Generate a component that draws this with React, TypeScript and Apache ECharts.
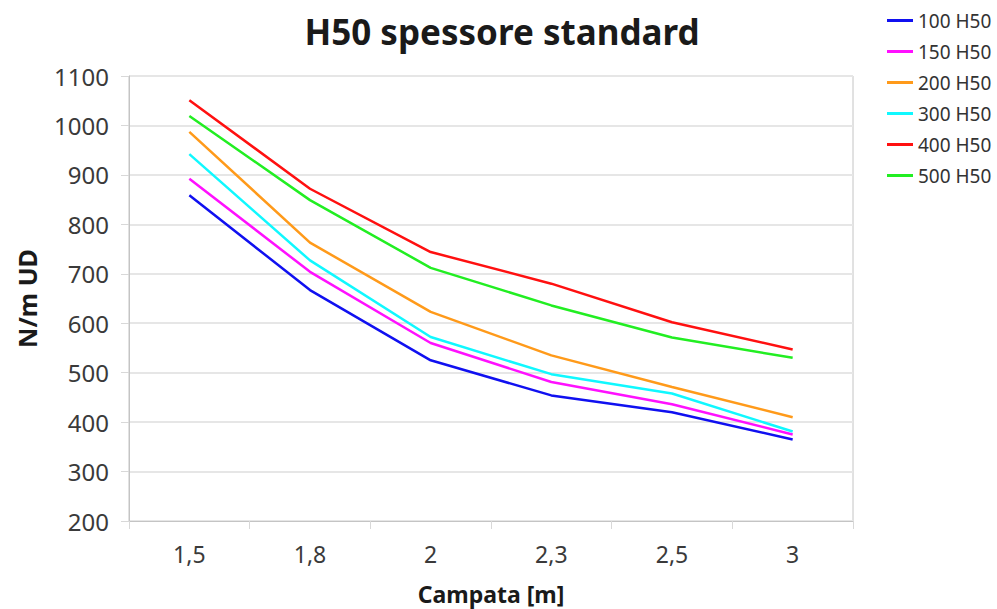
import React, { useEffect, useRef } from "react";
import * as echarts from "echarts";

const categories = ["1,5", "1,8", "2", "2,3", "2,5", "3"];
const seriesNames = ["100 H50", "150 H50", "200 H50", "300 H50", "400 H50", "500 H50"];
const s100 = [859, 667, 525, 454, 420, 365];
const s150 = [892, 704, 560, 481, 436, 375];
const s200 = [987, 763, 623, 535, 471, 410];
const s300 = [942, 727, 572, 497, 458, 381];
const s400 = [1051, 872, 744, 680, 602, 547];
const s500 = [1019, 849, 712, 636, 571, 530];
const seriesValues = [s100, s150, s200, s300, s400, s500];
const colors = ["#1010f0", "#ff10ff", "#ff9a1a", "#10f8ff", "#ff1010", "#22ee22"];
const yTicks = { min: 200, max: 1100, interval: 100 };

const FONT = "'Noto Sans', 'DejaVu Sans', sans-serif";

export default function App() {
  const ref = useRef<HTMLDivElement>(null);
  useEffect(() => {
    if (!ref.current) return;
    const chart = echarts.init(ref.current, undefined, { renderer: "svg" });
    chart.setOption({
      animation: false,
      color: colors,
      title: {
        text: "H50 spessore standard",
        left: 497,
        top: 9,
        textAlign: "center",
        textStyle: { fontFamily: FONT, fontSize: 35, fontWeight: "bold", color: "#1a1a1a" },
      },
      legend: {
        orient: "vertical",
        left: 882,
        top: 6,
        itemWidth: 26,
        itemHeight: 3,
        itemGap: 12,
        itemTextGap: 5,
        icon: "rect",
        textStyle: { fontFamily: FONT, fontSize: 19, color: "#333" },
        data: seriesNames,
      },
      grid: {
        left: 129,
        right: 144,
        top: 76,
        bottom: 88,
        show: true,
        borderColor: "#c4c4c4",
        borderWidth: 1,
        outerBoundsMode: "none",
        containLabel: false,
      },
      xAxis: {
        type: "category",
        data: categories,
        boundaryGap: true,
        name: "Campata [m]",
        nameLocation: "middle",
        nameGap: 61,
        nameTextStyle: {
          fontFamily: FONT,
          fontSize: 23,
          fontWeight: "bold",
          color: "#1a1a1a",
          lineHeight: 24,
        },
        axisLine: { show: true, lineStyle: { color: "#c4c4c4" } },
        axisTick: { show: true, length: 8, lineStyle: { color: "#d8d8d8" } },
        axisLabel: { fontFamily: FONT, fontSize: 23, color: "#3a3a3a", margin: 21 },
      },
      yAxis: {
        type: "value",
        min: yTicks.min,
        max: yTicks.max,
        interval: yTicks.interval,
        name: "N/m UD",
        nameLocation: "middle",
        nameGap: 90,
        nameTextStyle: { fontFamily: FONT, fontSize: 25, fontWeight: "bold", color: "#1a1a1a" },
        axisLine: { show: true, lineStyle: { color: "#c4c4c4" } },
        axisTick: { show: true, length: 8, lineStyle: { color: "#d8d8d8" } },
        axisLabel: {
          fontFamily: FONT,
          fontSize: 24,
          color: "#3a3a3a",
          margin: 20,
          formatter: (v: number) => String(v),
        },
        splitLine: { show: true, lineStyle: { color: "#e6e6e6", width: 2 } },
      },
      series: seriesNames.map((name, i) => ({
        name,
        type: "line",
        data: seriesValues[i],
        symbol: "none",
        lineStyle: { width: 2.5, color: colors[i] },
        itemStyle: { color: colors[i] },
      })),
    });
    return () => chart.dispose();
  }, []);
  return <div ref={ref} style={{ width: 997, height: 609, position: "absolute", left: 0, top: 0 }} />;
}
